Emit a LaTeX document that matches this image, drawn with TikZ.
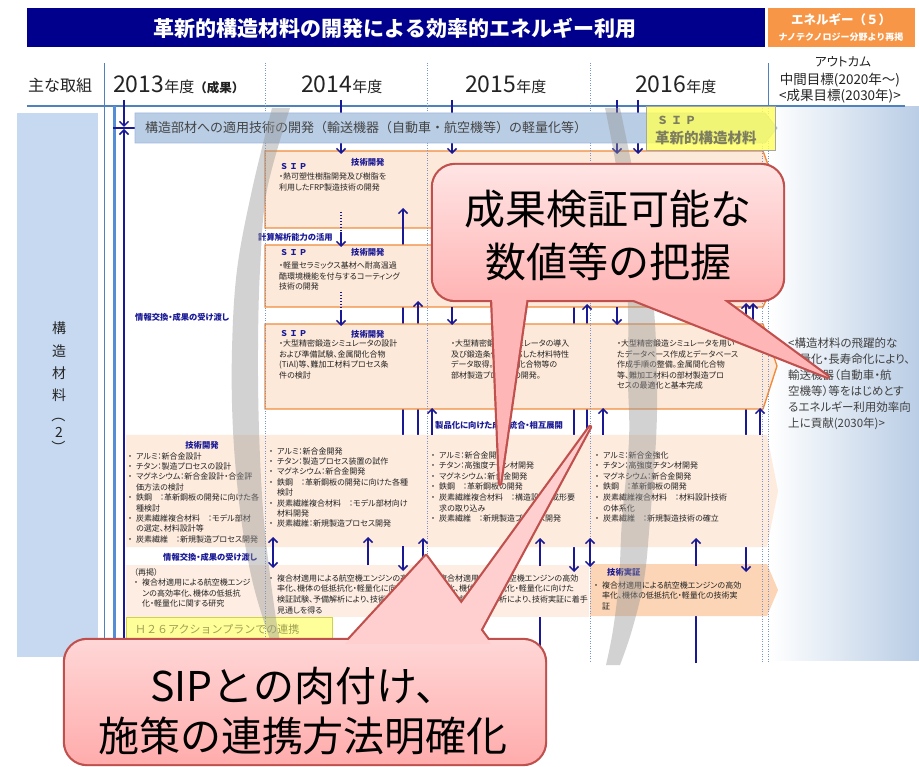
\documentclass[tikz,border=0pt]{standalone}
\usepackage{fontspec}
\setmainfont{Noto Sans CJK JP}
\newfontfamily\jpp{Noto Sans CJK JP}[RawFeature=+palt]
\usetikzlibrary{arrows.meta}
\definecolor{navybar}{RGB}{0,0,140}
\definecolor{navyln}{RGB}{25,25,150}
\definecolor{orgbox}{RGB}{247,150,70}
\definecolor{peach}{RGB}{253,233,217}
\definecolor{peachrow}{RGB}{253,235,222}
\definecolor{peachlt}{RGB}{253,237,226}
\definecolor{peachdk}{RGB}{251,213,181}
\definecolor{orgln}{RGB}{240,140,60}
\definecolor{panelblue}{RGB}{198,217,241}
\definecolor{barblue}{RGB}{185,205,229}
\definecolor{barbord}{RGB}{160,185,220}
\definecolor{hdrline}{RGB}{79,129,189}
\definecolor{thickblue}{RGB}{85,142,213}
\definecolor{dotblue}{RGB}{120,150,205}
\definecolor{txt}{RGB}{35,35,35}
\definecolor{outtxt}{RGB}{64,64,64}
\definecolor{ylw}{RGB}{255,255,90}
\definecolor{ylwtxt}{RGB}{125,125,95}
\definecolor{hylw}{RGB}{255,255,153}
\definecolor{hylwbd}{RGB}{210,210,70}
\definecolor{htxt}{RGB}{160,160,85}
\definecolor{cbord}{RGB}{192,80,77}
\definecolor{gband}{RGB}{150,150,150}
\definecolor{outgrad}{RGB}{185,205,229}
\definecolor{caTop}{RGB}{255,228,228}
\definecolor{caBot}{RGB}{255,180,180}
\definecolor{caTail}{RGB}{255,182,182}
\definecolor{cbTop}{RGB}{255,214,214}
\definecolor{cbBot}{RGB}{255,172,172}
\definecolor{cbTail}{RGB}{255,206,206}
\newcommand\myb{\makebox[8pt][l]{・}}
\newcommand\myi{\hspace*{8pt}}
\tikzset{
  nav/.style={draw=navyln, line width=1.5pt},
  arr/.style={nav, -{Straight Barb[length=4.5pt,width=9pt]}},
  darr/.style={nav, {Straight Barb[length=4.5pt,width=9pt]}-{Straight Barb[length=4.5pt,width=9pt]}},
  dotcol/.style={draw=dotblue, line width=0.8pt, dash pattern=on 1pt off 1.5pt},
  sbox/.style={fill=peach, draw=orgln, line width=1.4pt},
  body/.style={font=\jpp\fontsize{8}{10.4}\selectfont, text=txt, inner sep=0pt, align=left, anchor=north west},
  navlbl/.style={font=\jpp\bfseries\fontsize{8.3}{9}\selectfont, text=navyln, inner sep=0pt, anchor=west},
  siplbl/.style={font=\bfseries\fontsize{8}{9}\selectfont, text=navyln, inner sep=0pt, anchor=west},
  yr/.style={inner sep=0pt, anchor=west, text=txt},
  vlab/.style={font=\fontsize{14}{14}\selectfont, text=txt, inner sep=0pt},
  outc/.style={font=\jpp\fontsize{11.5}{16}\selectfont, text=outtxt, inner sep=0pt, anchor=north west, align=left},
  cotext/.style={font=\fontsize{41}{41}\selectfont, text=black, inner sep=0pt},
  cbd/.style={draw=cbord, line width=4.4pt, line join=round},
}
\begin{document}
\begin{tikzpicture}[x=1pt,y=-1pt]
\useasboundingbox (0,0) rectangle (919,767);
\fill[white] (0,0) rectangle (919,767);

% ---------- panels
\fill[panelblue] (17,113) rectangle (98,657);
\shade[left color=white, right color=outgrad] (770,107) rectangle (919,660);
\node[vlab] (v1) at (59,328) {構};
\node[vlab] (v2) at (59,351) {造};
\node[vlab] (v3) at (59,373) {材};
\node[vlab] (v4) at (59,395) {料};
\node[vlab, rotate=-90] (v5) at (59,416) {（};
\node[vlab] (v6) at (59,432) {2};
\node[vlab, rotate=-90] (v7) at (59,447) {）};

% ---------- header
\fill[navybar] (27,8) rectangle (765,47);
\node[font=\bfseries\fontsize{21}{21}\selectfont, text=white, inner sep=0pt] (title) at (395,28) {革新的構造材料の開発による効率的エネルギー利用};
\fill[orgbox] (768,8) rectangle (915,47);
\node[font=\bfseries\fontsize{12.5}{13}\selectfont, text=white, inner sep=0pt] (en1) at (841,20) {エネルギー（５）};
\node[font=\bfseries\fontsize{9}{9}\selectfont, text=white, inner sep=0pt] (en2) at (841,37) {ナノテクノロジー分野より再掲};

\node[font=\fontsize{16}{16}\selectfont, text=txt, inner sep=0pt] (hd0) at (60,85) {主な取組};
\node[yr] (hd1) at (113,85) {{\fontsize{23}{23}\selectfont 2013}{\fontsize{15}{15}\selectfont 年度}{\bfseries\fontsize{12.5}{13}\selectfont （成果）}};
\node[yr] (hd2) at (301,85) {{\fontsize{23}{23}\selectfont 2014}{\fontsize{15}{15}\selectfont 年度}};
\node[yr] (hd3) at (465,85) {{\fontsize{23}{23}\selectfont 2015}{\fontsize{15}{15}\selectfont 年度}};
\node[yr] (hd4) at (635,85) {{\fontsize{23}{23}\selectfont 2016}{\fontsize{15}{15}\selectfont 年度}};
\node[font=\jpp\fontsize{12.5}{13}\selectfont, text=txt, inner sep=0pt] (oc1) at (843,62) {アウトカム};
\node[font=\jpp\fontsize{13.5}{14}\selectfont, text=txt, inner sep=0pt] (oc2) at (840,80) {中間目標(2020年～)};
\node[font=\jpp\fontsize{13.5}{14}\selectfont, text=txt, inner sep=0pt] (oc3) at (840,96) {<成果目標(2030年)>};

\draw[hdrline, line width=2pt] (27,106) -- (905,106);
\draw[hdrline, line width=0.8pt] (104,63) -- (104,657);
\draw[thickblue, line width=3pt] (114,106) -- (114,657);
\draw[hdrline, line width=0.8pt] (768,63) -- (768,106);

% ---------- lines behind boxes
\draw[nav] (403,435) -- (403,228);
\draw[nav] (418,435) -- (418,306);
\draw[nav] (574,228) -- (574,565);
\draw[nav] (587,435) -- (587,306);
\draw[nav] (746,306) -- (746,565);
\draw[nav] (540,663) -- (540,565);
\draw[nav] (696,663) -- (696,565);

% ---------- boxes
\path[sbox] (265,151) -- (763,151) -- (777,189.5) -- (763,228) -- (265,228) -- cycle;
\path[sbox] (265,245) -- (763,245) -- (777,276) -- (763,307) -- (265,307) -- cycle;
\path[sbox] (265,324) -- (763,324) -- (777,366) -- (763,409) -- (265,409) -- cycle;
\fill[peachrow] (126,435) -- (767,435) -- (778,491) -- (767,547) -- (126,547) -- cycle;
\fill[peachlt] (126,565) rectangle (589,617);
\fill[peachdk] (590,564) -- (767,564) -- (778,590) -- (767,616) -- (590,616) -- cycle;
\filldraw[fill=hylw, draw=hylwbd, line width=1pt] (126,617) rectangle (332,663);

% ---------- column dotted lines
\foreach \xx in {265,427,590} \draw[dotcol] (\xx,63) -- (\xx,663);
\draw[dotcol] (762,106) -- (762,663);
\draw[dotcol] (768,106) -- (768,663);

% ---------- SIP box texts
\node[siplbl] (s1) at (280,167) {Ｓ\hspace{1.5pt}Ｉ\hspace{1.5pt}Ｐ};
\node[navlbl] (k1) at (351,162) {技術開発};
\node[body, font=\jpp\fontsize{8}{11}\selectfont] (t1) at (279,173) {・熱可塑性樹脂開発及び樹脂を\\利用したFRP製造技術の開発};
\node[siplbl] (s2) at (280,253) {Ｓ\hspace{1.5pt}Ｉ\hspace{1.5pt}Ｐ};
\node[navlbl] (k2) at (351,252) {技術開発};
\node[body, font=\jpp\fontsize{8}{10.5}\selectfont] (t2) at (279,262) {・軽量セラミックス基材へ耐高温過\\酷環境機能を付与するコーティング\\技術の開発};
\node[siplbl] (s3) at (280,334) {Ｓ\hspace{1.5pt}Ｉ\hspace{1.5pt}Ｐ};
\node[navlbl] (k3) at (351,334) {技術開発};
\node[body, font=\jpp\fontsize{8}{10.5}\selectfont] (t3) at (279,340) {・大型精密鍛造シミュレータの設計\\および準備試験、金属間化合物\\(TiAl)等、難加工材料プロセス条\\件の検討};
\node[body, font=\jpp\fontsize{8}{10.5}\selectfont] (t4) at (451,340) {・大型精密鍛造シミュレータの導入\\及び鍛造条件に対応した材料特性\\データ取得。金属間化合物等の\\部材製造プロセスの開発。};
\node[body, font=\jpp\fontsize{8}{10.5}\selectfont] (t5) at (617,340) {・大型精密鍛造シミュレータを用い\\たデータベース作成とデータベース\\作成手順の整備。金属間化合物\\等、難加工材料の部材製造プロ\\セスの最適化と基本完成};

% ---------- navy labels
\node[navlbl] (l1) at (258,237) {計算解析能力の活用};
\node[navlbl] (l2) at (135,317) {情報交換・成果の受け渡し};
\node[navlbl] (l3) at (435,425) {製品化に向けた成果統合・相互展開};
\node[navlbl] (l4) at (163,557) {情報交換・成果の受け渡し};
\node[navlbl, anchor=center] (l5) at (202,445) {技術開発};
\node[navlbl] (l6) at (607,572) {技術実証};

% ---------- row 1 texts
\node[body] (r1a) at (128,452.2) {\myb アルミ：新合金設計\\\myb チタン：製造プロセスの設計\\\myb マグネシウム：新合金設計・合金評\\\myi 価方法の検討\\\myb 鉄鋼　：革新鋼板の開発に向けた各\\\myi 種検討\\\myb 炭素繊維複合材料　：モデル部材\\\myi の選定、材料設計等\\\myb 炭素繊維　：新規製造プロセス開発};
\node[body] (r1b) at (269,447.2) {\myb アルミ：新合金開発\\\myb チタン：製造プロセス装置の試作\\\myb マグネシウム：新合金開発\\\myb 鉄鋼　：革新鋼板の開発に向けた各種\\\myi 検討\\\myb 炭素繊維複合材料　：モデル部材向け\\\myi 材料開発\\\myb 炭素繊維：新規製造プロセス開発};
\node[body, font=\jpp\fontsize{8}{10.6}\selectfont] (r1c) at (431,451.2) {\myb アルミ：新合金開発\\\myb チタン：高強度チタン材開発\\\myb マグネシウム：新合金開発\\\myb 鉄鋼　：革新鋼板の開発\\\myb 炭素繊維複合材料　：構造設計・成形要\\\myi 求の取り込み\\\myb 炭素繊維　：新規製造プロセス開発};
\node[body, font=\jpp\fontsize{8}{10.6}\selectfont] (r1d) at (595,451.2) {\myb アルミ：新合金強化\\\myb チタン：高強度チタン材開発\\\myb マグネシウム：新合金開発\\\myb 鉄鋼　：革新鋼板の開発\\\myb 炭素繊維複合材料　：材料設計技術\\\myi の体系化\\\myb 炭素繊維　：新規製造技術の確立};

% ---------- row 2 texts
\node[body] (r2a) at (134,568.2) {（再掲）\\\myb 複合材適用による航空機エンジ\\\myi ンの高効率化、機体の低抵抗\\\myi 化・軽量化に関する研究};
\node[body, font=\jpp\fontsize{8}{10.8}\selectfont] (r2b) at (269,574.2) {\myb 複合材適用による航空機エンジンの高効\\\myi 率化、機体の低抵抗化・軽量化に向けた\\\myi 検証試験、予備解析により、技術実証の\\\myi 見通しを得る};
\node[body, font=\jpp\fontsize{8}{10.8}\selectfont] (r2c) at (431,574.2) {\myb 複合材適用による航空機エンジンの高効\\\myi 率化、機体の低抵抗化・軽量化に向けた\\\myi 検証試験、予備解析により、技術実証に着手};
\node[body, font=\jpp\fontsize{8}{10.6}\selectfont] (r2d) at (594,581.2) {\myb 複合材適用による航空機エンジンの高効\\\myi 率化、機体の低抵抗化・軽量化の技術実\\\myi 証};
\node[font=\fontsize{11}{11}\selectfont, text=htxt, anchor=west, inner sep=0pt] (h26) at (135,629) {Ｈ２６アクションプランでの連携};

% ---------- outcome text
\node[outc] (outc) at (788,338) {<構造材料の飛躍的な\\軽量化・長寿命化により、\\輸送機器（自動車・航\\空機等）等をはじめとす\\るエネルギー利用効率向\\上に貢献(2030年)>};

% ---------- arrows on top
\draw[arr] (341,100) -- (341,154);
\draw[nav, dash pattern=on 1.5pt off 1.5pt] (341,212) -- (341,236);
\draw[arr] (341,232) -- (341,247);
\draw[nav, dash pattern=on 1.5pt off 1.5pt] (341,292) -- (341,314);
\draw[arr] (341,310) -- (341,326);
\draw[arr] (403,229) -- (403,208);
\draw[arr] (418,310) -- (418,301);
\draw[arr] (432,435) -- (432,408);
\draw[arr] (452,100) -- (452,154);
\draw[arr] (452,228) -- (452,246);
\draw[arr] (452,307) -- (452,325);
\draw[arr] (587,312) -- (587,304);
\draw[arr] (603,435) -- (603,408);
\draw[arr] (617,100) -- (617,154);
\draw[arr] (617,307) -- (617,325);
\draw[arr] (638,100) -- (638,154);
\draw[arr] (746,312) -- (746,303);
\draw[arr] (753,324) -- (753,303);
\draw[arr] (760,435) -- (760,408);
\draw[darr] (273,537) -- (273,568);
\draw[arr] (368,565) -- (368,537);
\draw[arr] (403,546) -- (403,571);
\draw[arr] (423,565) -- (423,538);
\draw[arr] (540,566) -- (540,538);
\draw[arr] (574,556) -- (574,572);
\draw[darr] (590,538) -- (590,567);
\draw[arr] (696,566) -- (696,538);
\draw[arr] (746,556) -- (746,572);
\draw[arr] (124,100) -- (124,127);
\draw[arr] (124,657) -- (124,129);
\draw[navyln, line width=1.2pt] (113,128) -- (135,128);

% ---------- blue bar and SIP yellow box
\filldraw[fill=barblue, draw=barbord, line width=0.8pt] (135,113) -- (765,113) -- (777,128) -- (765,143) -- (135,143) -- cycle;
\node[font=\fontsize{13}{13}\selectfont, text=txt!85, anchor=west, inner sep=0pt] (bartxt) at (145,128) {構造部材への適用技術の開発（輸送機器（自動車・航空機等）の軽量化等）};
\filldraw[fill=ylw, fill opacity=0.8, draw=gray!70, line width=0.8pt] (646,106) rectangle (775,150);
\node[font=\bfseries\fontsize{11}{11}\selectfont, text=ylwtxt, anchor=west, inner sep=0pt] (ysip) at (657,120) {Ｓ\hspace{3pt}Ｉ\hspace{3pt}Ｐ};
\node[font=\bfseries\fontsize{14.5}{15}\selectfont, text=ylwtxt, anchor=west, inner sep=0pt] (ysip2) at (655,138) {革新的構造材料};

% ---------- grey brackets
\fill[gband, opacity=0.42] plot[smooth, tension=0.6] coordinates {(272,108) (252,190) (237,270) (232,350) (233,430) (240,510) (251,575) (265,625) (276,655)} -- plot[smooth, tension=0.6] coordinates {(283,655) (277,625) (270,575) (263,510) (259,430) (258,350) (260,270) (267,190) (290,108)} -- cycle;
\fill[gband, opacity=0.42] plot[smooth, tension=0.6] coordinates {(620,108) (633,172) (645,240) (654,310) (657,380) (656,440) (650,520) (644,580) (632,630) (620,665)} -- plot[smooth, tension=0.6] coordinates {(606,665) (613,630) (619,580) (622,520) (629,440) (628,380) (628,310) (624,240) (617,172) (605,108)} -- cycle;

% ---------- callout A
\draw[cbd, rounded corners=22pt] (433,165) rectangle (783,300);
\draw[cbd] (492,296) -- (500,484) -- (527,296) -- cycle;
\draw[cbd] (624,296) -- (828,377) -- (718,296) -- cycle;
\shade[top color=caTop, bottom color=caBot, rounded corners=22pt] (433,165) rectangle (783,300);
\fill[caTail] (492,296) -- (500,484) -- (527,296) -- cycle;
\fill[caTail] (624,296) -- (828,377) -- (718,296) -- cycle;
\node[cotext] (ca1) at (608,209) {成果検証可能な};
\node[cotext] (ca2) at (608,262) {数値等の把握};

% ---------- callout B
\draw[cbd, rounded corners=22pt] (65,640) rectangle (545,764);
\draw[cbd] (345,644) -- (426,556) -- (491,644) -- cycle;
\draw[cbd] (432,644) -- (590,427) -- (473,644) -- cycle;
\shade[top color=cbTop, bottom color=cbBot, rounded corners=22pt] (65,640) rectangle (545,764);
\fill[cbTail] (345,644) -- (426,556) -- (491,644) -- cycle;
\fill[cbTail] (432,644) -- (590,427) -- (473,644) -- cycle;
\node[cotext] (cb1) at (303,686) {SIPとの肉付け、};
\node[cotext] (cb2) at (303,736) {施策の連携方法明確化};
\end{tikzpicture}
\end{document}
